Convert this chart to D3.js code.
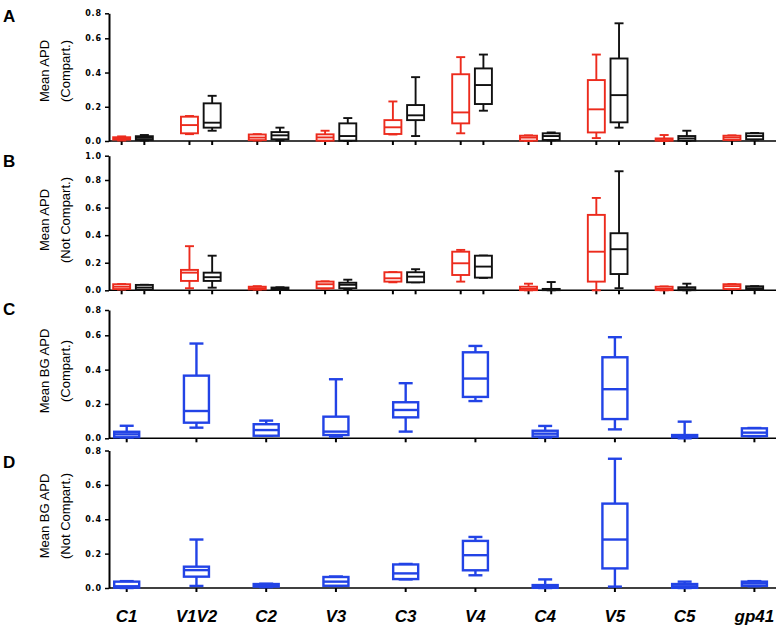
<!DOCTYPE html>
<html><head><meta charset="utf-8">
<script src="https://cdn.jsdelivr.net/npm/d3@7"></script>
<style>body{margin:0;background:#fff}svg{display:block}</style>
</head><body>
<script>
const categories = ["C1","V1V2","C2","V3","C3","V4","C4","V5","C5","gp41"];
// each entry: [min, q1, median, q3, max]
const aRed = [
[0.003,0.008,0.015,0.022,0.027],[0.04,0.045,0.093,0.142,0.146],[0.003,0.005,0.02,0.038,0.04],
[0.0,0.002,0.021,0.039,0.06],[0.038,0.041,0.08,0.122,0.231],[0.045,0.103,0.167,0.39,0.49],
[0.0,0.002,0.02,0.031,0.033],[0.017,0.05,0.185,0.356,0.505],[0.0,0.002,0.005,0.015,0.035],
[0.005,0.006,0.02,0.031,0.033]];
const aBlack = [
[0.003,0.006,0.018,0.028,0.035],[0.06,0.078,0.107,0.22,0.264],[0.003,0.01,0.033,0.052,0.078],
[0.0,0.002,0.029,0.103,0.134],[0.029,0.122,0.15,0.21,0.373],[0.177,0.216,0.327,0.424,0.505],
[0.004,0.006,0.029,0.045,0.05],[0.078,0.109,0.268,0.482,0.72],[0.0,0.002,0.015,0.029,0.06],
[0.008,0.01,0.029,0.045,0.047]];
const bRed = [
[0.005,0.009,0.026,0.044,0.045],[0.015,0.068,0.128,0.148,0.32],[0.005,0.007,0.015,0.026,0.03],
[0.012,0.015,0.044,0.063,0.065],[0.058,0.063,0.087,0.131,0.132],[0.063,0.111,0.196,0.28,0.293],
[0.0,0.001,0.01,0.026,0.048],[0.0,0.063,0.28,0.547,0.67],[0.0,0.001,0.01,0.026,0.028],
[0.008,0.009,0.03,0.044,0.045]];
const bBlack = [
[0.003,0.004,0.02,0.039,0.04],[0.019,0.068,0.095,0.128,0.251],[0.002,0.004,0.01,0.02,0.022],
[0.005,0.015,0.04,0.055,0.077],[0.058,0.058,0.099,0.131,0.153],[0.09,0.092,0.172,0.251,0.252],
[0.0,0.001,0.005,0.01,0.06],[0.015,0.118,0.298,0.414,0.872],[0.0,0.001,0.008,0.022,0.048],
[0.003,0.004,0.015,0.029,0.03]];
const cBlue = [
[0.005,0.006,0.023,0.038,0.073],[0.062,0.091,0.159,0.365,0.552],[0.015,0.015,0.048,0.082,0.103],
[0.01,0.019,0.039,0.126,0.344],[0.039,0.122,0.165,0.21,0.321],[0.217,0.241,0.348,0.501,0.538],
[0.005,0.01,0.027,0.044,0.072],[0.052,0.112,0.286,0.472,0.589],[0.0,0.006,0.01,0.019,0.097],
[0.012,0.013,0.033,0.058,0.06]];
const dBlue = [
[0.0,0.002,0.01,0.037,0.04],[0.012,0.066,0.104,0.124,0.282],[0.005,0.008,0.015,0.023,0.025],
[0.012,0.013,0.037,0.064,0.067],[0.05,0.052,0.085,0.137,0.14],[0.074,0.103,0.191,0.274,0.297],
[0.0,0.001,0.008,0.017,0.05],[0.008,0.114,0.282,0.491,0.752],[0.0,0.001,0.01,0.023,0.037],
[0.01,0.013,0.027,0.037,0.04]];
const ticks08 = [0,0.2,0.4,0.6,0.8];
const ticks10 = [0,0.2,0.4,0.6,0.8,1.0];

const RED = "#ec2b1d", BLACK = "#111", BLUE = "#2243e6";
const W = 778, H = 625, AX = 109, AXEND = 776;

const svg = d3.select("body").append("svg").attr("width", W).attr("height", H);

const xPair = d3.scalePoint().domain(categories).range([133, 743.3]);
const xPairInner = d3.scalePoint().domain(["red","black"]).range([-11.35, 11.35]);
const xSingle = d3.scalePoint().domain(categories).range([126.7, 754.4]);

const panels = [
  {letter:"A", ly:22, yDomain:[0,0.6,0.8], yRange:[141,38.3,13.3], ticks:ticks08,
   title:["Mean APD","(Compart.)"], ty:71,
   series:[{key:"red",data:aRed,color:RED},{key:"black",data:aBlack,color:BLACK}], paired:true},
  {letter:"B", ly:167, yDomain:[0,0.8,1.0], yRange:[290.3,180,155.7], ticks:ticks10,
   title:["Mean APD","(Not Compart.)"], ty:220,
   series:[{key:"red",data:bRed,color:RED},{key:"black",data:bBlack,color:BLACK}], paired:true},
  {letter:"C", ly:315, yDomain:[0,0.6,0.8], yRange:[438.3,335.3,310], ticks:ticks08,
   title:["Mean BG APD","(Compart.)"], ty:371,
   series:[{key:"blue",data:cBlue,color:BLUE}], paired:false},
  {letter:"D", ly:468, yDomain:[0,0.8], yRange:[588,450.5], ticks:ticks08,
   title:["Mean BG APD","(Not Compart.)"], ty:516,
   series:[{key:"blue",data:dBlue,color:BLUE}], paired:false}
];

panels.forEach(p => {
  const y = d3.scaleLinear().domain(p.yDomain).range(p.yRange);
  const g = svg.append("g");
  const base = y(0);

  // panel letter
  g.append("text").attr("x", 3).attr("y", p.ly).text(p.letter)
    .attr("font-family","Liberation Sans, Arial, sans-serif").attr("font-weight","bold").attr("font-size",17);

  // y title
  p.title.forEach((t,i) => {
    g.append("text").attr("transform",`translate(${44+i*21},${p.ty}) rotate(-90)`)
      .attr("dy","0.35em").attr("text-anchor","middle").text(t)
      .attr("font-family","Liberation Sans, Arial, sans-serif").attr("font-size",13);
  });

  // y axis
  const yAxis = d3.axisLeft(y).tickValues(p.ticks).tickFormat(d3.format(".1f"))
    .tickSize(4).tickSizeOuter(0).tickPadding(3);
  const ya = g.append("g").attr("transform",`translate(${AX},0)`).call(yAxis);
  ya.select(".domain").attr("stroke","#000").attr("stroke-width",2);
  ya.selectAll(".tick line").attr("stroke","#000").attr("stroke-width",1.5);
  ya.selectAll(".tick text").attr("font-family","DejaVu Sans, sans-serif").attr("font-weight","bold")
    .attr("font-size",8).attr("letter-spacing",0.9).attr("fill","#000");

  // x axis line
  g.append("line").attr("x1",AX).attr("x2",AXEND).attr("y1",base).attr("y2",base)
    .attr("stroke","#000").attr("stroke-width",1.6);

  const boxW = p.paired ? 17 : 25;
  const capW = p.paired ? 9 : 14;
  const sw = p.paired ? 1.9 : 2.4;

  p.series.forEach(s => {
    const xpos = i => p.paired ? xPair(categories[i]) + xPairInner(s.key) : xSingle(categories[i]);
    // x ticks
    g.append("g").selectAll("line").data(s.data).join("line")
      .attr("x1",(d,i)=>xpos(i)).attr("x2",(d,i)=>xpos(i))
      .attr("y1",base).attr("y2",base+4).attr("stroke","#000").attr("stroke-width",2);

    const bx = g.append("g").attr("fill","none").attr("stroke",s.color).attr("stroke-width",sw);
    const items = bx.selectAll("g").data(s.data).join("g");
    // whiskers
    items.append("line").attr("x1",(d,i)=>xpos(i)).attr("x2",(d,i)=>xpos(i))
      .attr("y1",d=>y(d[0])).attr("y2",d=>y(d[1]));
    items.append("line").attr("x1",(d,i)=>xpos(i)).attr("x2",(d,i)=>xpos(i))
      .attr("y1",d=>y(d[3])).attr("y2",d=>y(d[4]));
    // caps
    [0,4].forEach(k => {
      items.append("line").attr("x1",(d,i)=>xpos(i)-capW/2).attr("x2",(d,i)=>xpos(i)+capW/2)
        .attr("y1",d=>y(d[k])).attr("y2",d=>y(d[k]));
    });
    // box
    items.append("rect").attr("x",(d,i)=>xpos(i)-boxW/2).attr("width",boxW)
      .attr("y",d=>y(d[3])).attr("height",d=>Math.max(0.5, y(d[1])-y(d[3]))).attr("fill","#fff");
    // median
    items.append("line").attr("x1",(d,i)=>xpos(i)-boxW/2).attr("x2",(d,i)=>xpos(i)+boxW/2)
      .attr("y1",d=>y(d[2])).attr("y2",d=>y(d[2]));
  });
});

// x category labels
svg.append("g").selectAll("text").data(categories).join("text")
  .attr("x",d=>xSingle(d)).attr("y",622).attr("text-anchor","middle").text(d=>d)
  .attr("font-family","Liberation Sans, Arial, sans-serif").attr("font-weight","bold")
  .attr("font-style","italic").attr("font-size",17);
</script>
</body></html>
